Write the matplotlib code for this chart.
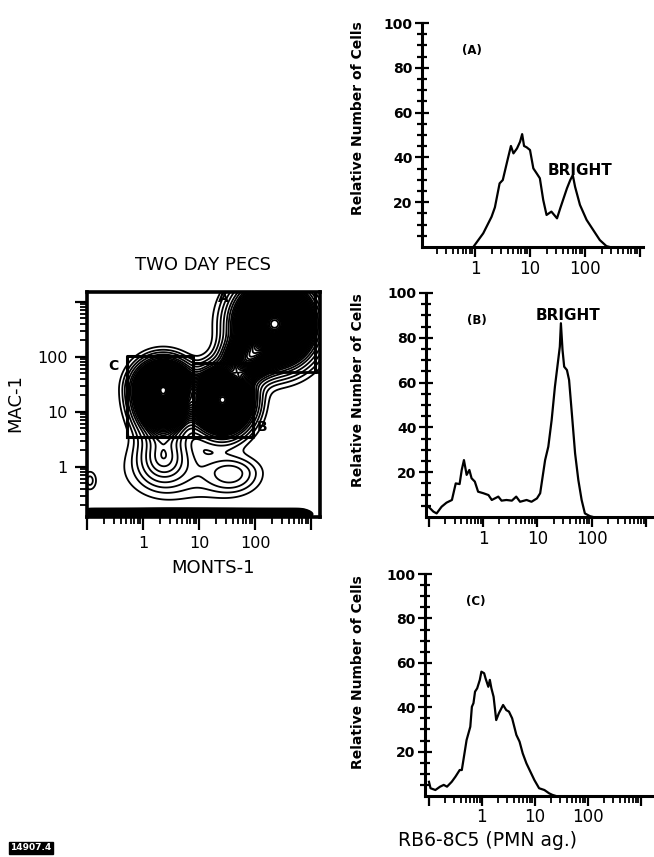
import numpy as np
import matplotlib
matplotlib.use("Agg")
import matplotlib.pyplot as plt
from matplotlib.ticker import FixedLocator, FixedFormatter, NullFormatter

# ---------------- data ----------------
# Histogram (A)
a_x = [0.93, 1.41, 2.0, 2.3, 2.8, 3.2, 3.9, 4.5, 5.0, 5.8, 6.6, 7.2, 7.8, 8.7, 10, 11.5,
       13.2, 15.1, 17.4, 20, 24.5, 31, 35.5, 47, 54, 60, 66, 81, 107, 141, 186, 245, 282]
a_y = [0, 6.1, 13.5, 17.7, 28.4, 29.9, 38.8, 45.1, 41.8, 44, 47, 50.4, 45.1, 44.5, 43.3, 35.1,
       32.9, 30.7, 21, 14.3, 15.8, 12.8, 17.3, 26.2, 29.9, 32.1, 26.9, 18.8, 12.1, 7.6, 3.1, 0.4, 0]
# Histogram (B)
b_x = [0.1, 0.123, 0.141, 0.174, 0.214, 0.269, 0.316, 0.372, 0.407, 0.447, 0.501, 0.562, 0.617,
       0.708, 0.813, 1.02, 1.26, 1.45, 1.91, 2.19, 2.69, 3.39, 4.07, 4.79, 6.31, 7.76, 9.77, 11.2,
       13.8, 15.8, 18.2, 20.9, 24.0, 25.7, 26.9, 28.8, 30.9, 34.7, 38.0, 42.7, 49.0, 56.2, 64.6,
       74.1, 91.2, 105]
b_y = [4.6, 2.4, 1.6, 4.6, 6.4, 7.6, 15.0, 14.7, 21.0, 25.4, 18.8, 21.0, 17.3, 15.8, 11.3, 10.6,
       9.8, 7.6, 9.1, 7.3, 7.6, 7.3, 9.1, 6.8, 7.6, 6.8, 8.3, 10.6, 25.4, 31.4, 43.3, 58.2, 70.1,
       76.0, 86.5, 74.6, 67.1, 65.6, 61.2, 46.3, 28.4, 16.5, 7.6, 1.6, 0.4, 0]
# Histogram (C)
c_x = [0.1, 0.107, 0.132, 0.162, 0.19, 0.219, 0.269, 0.316, 0.38, 0.417, 0.479, 0.513, 0.603,
       0.646, 0.692, 0.741, 0.813, 0.912, 0.977, 1.10, 1.17, 1.32, 1.41, 1.51, 1.66, 1.86, 2.09,
       2.51, 2.88, 3.24, 3.72, 4.47, 5.13, 5.89, 6.92, 7.94, 9.77, 12.0, 15.1, 18.6, 21.4, 25]
c_y = [6.4, 3.5, 2.7, 4.2, 5.0, 4.2, 6.4, 8.7, 11.7, 11.7, 20.7, 25.2, 31.2, 40.2, 41.8, 47.0,
       48.5, 52.3, 56.0, 55.3, 53.0, 49.2, 52.3, 48.5, 44.7, 34.2, 37.3, 41.0, 38.7, 38.0, 35.0,
       27.5, 24.5, 19.2, 14.7, 11.7, 7.2, 3.5, 2.7, 1.2, 0.5, 0]

# Contour plot populations (log10 MONTS-1, log10 MAC-1)
pop_lx = [0.36, 1.42, 2.35, 1.85, 0.36, 1.58, 0.70, -0.95]
pop_ly = [1.40, 1.22, 2.60, 1.95, 0.18, -0.12, -0.10, -0.25]
pop_sx = [0.27, 0.28, 0.38, 0.24, 0.28, 0.30, 0.70, 0.08]
pop_sy_up = [0.27, 0.30, 0.40, 0.22, 0.30, 0.18, 0.35, 0.12]
pop_sy_dn = [0.40, 0.32, 0.40, 0.22, 0.30, 0.22, 0.35, 0.12]
pop_w = [1.0, 0.95, 1.0, 0.35, 0.11, 0.06, 0.03, 0.03]
band_ly, band_sy, band_x0, band_x1, band_w = -0.86, 0.035, -1.0, 2.85, 1.2

gate_c = (0.52, 7.8, 3.55, 105)
gate_b = (7.8, 92, 3.55, 78)
gate_a_x, gate_a_y = 1180, 53

hist_ticks_y = [20, 40, 60, 80, 100]
decades = [0.1, 1, 10, 100, 1000]
dec_labels = ["", "1", "10", "100", ""]

# ---------------- figure ----------------
W, H = 654, 857
fig = plt.figure(figsize=(W / 100, H / 100), dpi=100)
plt.rcParams['font.family'] = ['DejaVu Sans']


def rect(l, r, b, t):
    return [l / W, 1 - b / H, (r - l) / W, (b - t) / H]


minor_pos = [m * d for d in [0.1, 1, 10, 100, 1000] for m in range(2, 10)]


def hist_axes(pos, xl, x, y, letter, bright=None):
    ax = fig.add_axes(pos)
    ax.set_xscale("log")
    ax.plot(x, y, color="black", lw=1.6)
    ax.set_xlim(*xl)
    ax.set_ylim(0, 100)
    for s in ["top", "right"]:
        ax.spines[s].set_visible(False)
    for s in ["left", "bottom"]:
        ax.spines[s].set_linewidth(2.2)
    ax.xaxis.set_major_locator(FixedLocator(decades))
    ax.xaxis.set_major_formatter(FixedFormatter(dec_labels))
    ax.xaxis.set_minor_locator(FixedLocator(minor_pos))
    ax.xaxis.set_minor_formatter(NullFormatter())
    ax.yaxis.set_major_locator(FixedLocator(hist_ticks_y))
    ax.yaxis.set_minor_locator(FixedLocator(list(range(5, 100, 5))))
    ax.tick_params(axis="x", which="major", direction="out", length=7, width=1.6,
                   labelsize=12, pad=2)
    ax.tick_params(axis="x", which="minor", direction="out", length=5, width=1.3)
    ax.tick_params(axis="y", which="major", direction="inout", length=10, width=1.6,
                   labelsize=10, pad=2)
    ax.tick_params(axis="y", which="minor", direction="inout", length=7, width=1.6)
    for t in ax.get_yticklabels():
        t.set_fontweight("bold")
    ax.text(0.18, 0.86, letter, transform=ax.transAxes, fontsize=8.5, fontweight="bold")
    if bright:
        ax.text(bright[0], bright[1], "BRIGHT", fontsize=11, fontweight="bold",
                ha="center", va="center")
    ax.patch.set_alpha(0)
    return ax


hist_axes(rect(422, 643, 247, 23), (10 ** -0.964, 10 ** 3.055), a_x, a_y, "(A)", (80, 34))
hist_axes(rect(426, 653, 517, 293), (10 ** -1.046, 10 ** 3.12), b_x, b_y, "(B)", (36, 90))
hist_axes(rect(425, 653, 796, 574), (10 ** -1.075, 10 ** 3.23), c_x, c_y, "(C)")

for yc in [118, 390, 672]:
    fig.text(358 / W, 1 - yc / H, "Relative Number of Cells", rotation=90, ha="center",
             va="center", fontsize=10, fontweight="bold")
fig.text(488 / W, 1 - 841 / H, "RB6-8C5 (PMN ag.)", ha="center", va="center", fontsize=13.5)

# ---------------- contour plot ----------------
axc = fig.add_axes(rect(87, 320, 517, 292))
lx = np.linspace(-1.0, 3.16, 600)
ly = np.linspace(-0.91, 3.18, 600)
LX, LY = np.meshgrid(lx, ly)
Z = np.zeros_like(LX)
for cx, cy, sx, su, sd, w in zip(pop_lx, pop_ly, pop_sx, pop_sy_up, pop_sy_dn, pop_w):
    sy = np.where(LY >= cy, su, sd)
    Z += w * np.exp(-((LX - cx) ** 2 / (2 * sx ** 2) + (LY - cy) ** 2 / (2 * sy ** 2)))
Z += band_w * np.exp(-(LY - band_ly) ** 2 / (2 * band_sy ** 2)) \
    / (1 + np.exp(-(LX - band_x0) / 0.03)) / (1 + np.exp((LX - band_x1) / 0.04))
levels = [0.014, 0.026, 0.04, 0.058, 0.08, 0.1] + list(np.arange(0.122, Z.max(), 0.016))
axc.set_xscale("log")
axc.set_yscale("log")
axc.contour(10 ** LX, 10 ** LY, Z, levels=levels, colors="black", linewidths=1.3)
axc.set_xlim(10 ** -1.0, 10 ** 3.16)
axc.set_ylim(10 ** -0.91, 10 ** 3.18)

for (l, r, b, t) in [gate_c, gate_b]:
    axc.plot([l, r, r, l, l], [b, b, t, t, b], color="black", lw=2.2)
axc.plot([100, 10 ** 3.16], [gate_a_y, gate_a_y], color="black", lw=2.0)
axc.plot([gate_a_x, gate_a_x], [gate_a_y, 10 ** 3.18], color="black", lw=2.2)

for s in axc.spines.values():
    s.set_linewidth(2.6)
axc.xaxis.set_major_locator(FixedLocator(decades))
axc.xaxis.set_major_formatter(FixedFormatter(dec_labels))
axc.xaxis.set_minor_locator(FixedLocator(minor_pos))
axc.xaxis.set_minor_formatter(NullFormatter())
axc.yaxis.set_major_locator(FixedLocator(decades))
axc.yaxis.set_major_formatter(FixedFormatter(dec_labels))
axc.yaxis.set_minor_locator(FixedLocator(minor_pos))
axc.yaxis.set_minor_formatter(NullFormatter())
axc.tick_params(which="major", direction="out", length=9, width=1.6, labelsize=11.5, pad=5)
axc.tick_params(which="minor", direction="out", length=5, width=1.3)

fig.text(203 / W, 1 - 265 / H, "TWO DAY PECS", ha="center", va="center", fontsize=13)
fig.text(15 / W, 1 - 403 / H, "MAC-1", rotation=90, ha="center", va="center", fontsize=13)
fig.text(213 / W, 1 - 568 / H, "MONTS-1", ha="center", va="center", fontsize=13)
fig.text(113 / W, 1 - 366 / H, "C", ha="center", va="center", fontsize=10, fontweight="bold")
fig.text(223 / W, 1 - 298 / H, "A", ha="center", va="center", fontsize=10, fontweight="bold")
fig.text(262 / W, 1 - 427 / H, "B", ha="center", va="center", fontsize=10, fontweight="bold")

fig.text(10 / W, 1 - 848 / H, "14907.4", ha="left", va="center", fontsize=6.5,
         color="white", fontweight="bold",
         bbox=dict(boxstyle="square,pad=0.15", fc="black", ec="black"))

fig.savefig("out.png", dpi=100, facecolor="white")
